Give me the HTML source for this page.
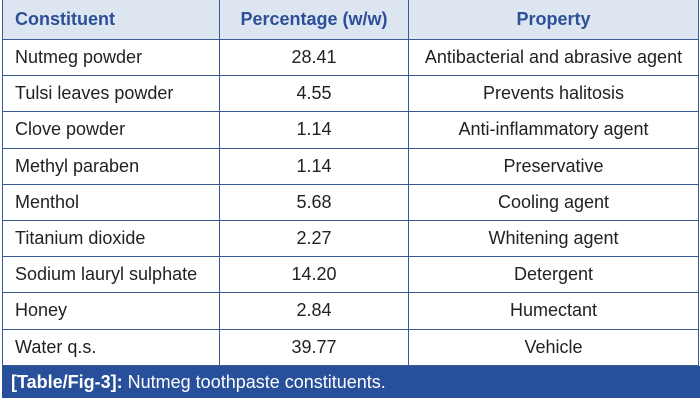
<!DOCTYPE html>
<html><head><style>
body{margin:0;width:700px;height:403px;background:#fff;font-family:"Liberation Sans",Arial,sans-serif;overflow:hidden;position:relative}
table{position:absolute;left:2px;top:0;width:696px;border-collapse:collapse;table-layout:fixed}
td,th{border:1px solid #3a5a96;height:35.2px;padding:0 0 0 12px;font-size:18px;color:#222;font-weight:normal}
th{background:#dde5f1;color:#2c4f97;font-weight:bold;height:39px}
tr:first-child th{border-top:none}
.c{text-align:center;padding:0}
.cap{position:absolute;left:2px;top:366px;width:698px;height:32px;background:#284f9a;color:#fff;font-size:18px;line-height:32px;padding-left:9px;box-sizing:border-box}
</style></head><body>
<table>
<colgroup><col style="width:217px"><col style="width:189px"><col style="width:290px"></colgroup>
<tr><th style="text-align:left">Constituent</th><th class="c">Percentage (w/w)</th><th class="c">Property</th></tr>
<tr><td>Nutmeg powder</td><td class="c">28.41</td><td class="c">Antibacterial and abrasive agent</td></tr>
<tr><td>Tulsi leaves powder</td><td class="c">4.55</td><td class="c">Prevents halitosis</td></tr>
<tr><td>Clove powder</td><td class="c">1.14</td><td class="c">Anti-inflammatory agent</td></tr>
<tr><td>Methyl paraben</td><td class="c">1.14</td><td class="c">Preservative</td></tr>
<tr><td>Menthol</td><td class="c">5.68</td><td class="c">Cooling agent</td></tr>
<tr><td>Titanium dioxide</td><td class="c">2.27</td><td class="c">Whitening agent</td></tr>
<tr><td>Sodium lauryl sulphate</td><td class="c">14.20</td><td class="c">Detergent</td></tr>
<tr><td>Honey</td><td class="c">2.84</td><td class="c">Humectant</td></tr>
<tr><td>Water q.s.</td><td class="c">39.77</td><td class="c">Vehicle</td></tr>
</table>
<div class="cap"><b>[Table/Fig-3]:</b> Nutmeg toothpaste constituents.</div>
</body></html>
